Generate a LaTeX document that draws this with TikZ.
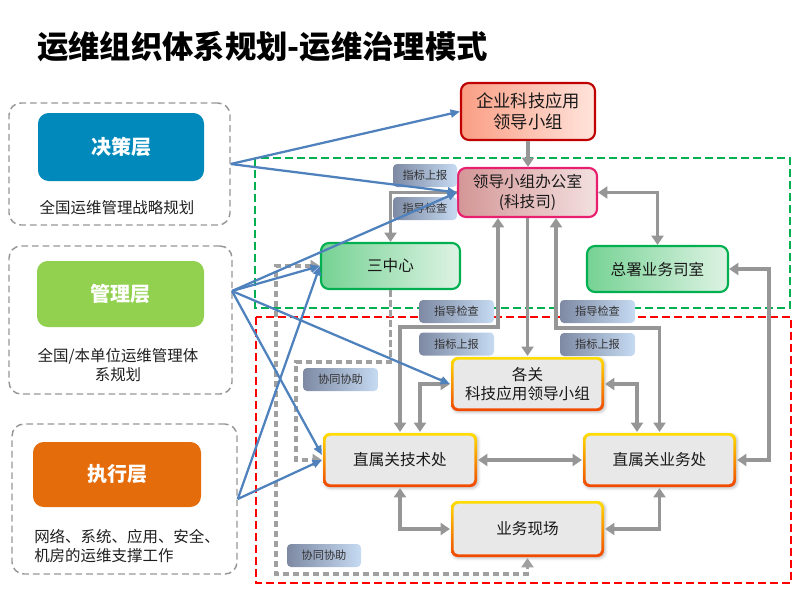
\documentclass[tikz,border=0pt]{standalone}
\usepackage{fontspec}
\setmainfont{Noto Sans CJK SC}
\usetikzlibrary{arrows.meta,shadows.blur,fit}
\definecolor{jcblue}{RGB}{0,137,186}
\definecolor{glgreen}{RGB}{146,208,80}
\definecolor{zxorange}{RGB}{228,108,10}
\definecolor{qyA}{RGB}{250,158,132}
\definecolor{qyB}{RGB}{255,228,220}
\definecolor{qyBorder}{RGB}{192,0,0}
\definecolor{ofA}{RGB}{212,150,150}
\definecolor{ofB}{RGB}{243,224,224}
\definecolor{ofBorder}{RGB}{232,30,110}
\definecolor{gnA}{RGB}{118,210,148}
\definecolor{gnB}{RGB}{222,243,228}
\definecolor{gnBorder}{RGB}{0,176,80}
\definecolor{yel}{RGB}{255,222,0}
\definecolor{ored}{RGB}{240,70,0}
\definecolor{boxgray}{RGB}{232,232,232}
\definecolor{labA}{RGB}{126,138,164}
\definecolor{labB}{RGB}{198,218,242}
\definecolor{arrgray}{RGB}{150,150,150}
\definecolor{dashgray}{RGB}{160,160,160}
\definecolor{lgray}{RGB}{150,150,150}
\definecolor{bblue}{RGB}{79,129,189}
\definecolor{dgreen}{RGB}{0,176,80}
\definecolor{dred}{RGB}{255,0,0}
\begin{document}
\begin{tikzpicture}[x=0.75pt,y=-0.75pt,
  every node/.style={inner sep=0pt},
  titlestyle/.style={anchor=west, font=\bfseries\fontsize{23.5}{26}\selectfont},
  layerbox/.style={draw=lgray, line width=1.1pt, dash pattern=on 5pt off 3pt, rounded corners=9pt},
  layertag/.style={rounded corners=8pt, text=white, font=\bfseries\fontsize{15}{18}\selectfont},
  desc/.style={font=\fontsize{11.6}{13.6}\selectfont, align=center, text=black!88},
  nbox/.style={align=center, font=\fontsize{11.7}{14.5}\selectfont, line width=1.6pt, rounded corners=6pt, text=black!90},
  qybox/.style={nbox, font=\fontsize{13}{16}\selectfont, draw=qyBorder, left color=qyA, right color=qyB},
  ofbox/.style={nbox, draw=ofBorder, left color=ofA, right color=ofB},
  gnbox/.style={nbox, draw=gnBorder, left color=gnA, right color=gnB},
  ybox/.style={nbox, draw=none, top color=yel, bottom color=ored, rounded corners=5pt,
    blur shadow={shadow xshift=1pt, shadow yshift=-1pt, shadow blur steps=4, shadow opacity=25},
    path picture={\fill[boxgray, rounded corners=3.5pt]
      ([shift={(2pt,-2pt)}]path picture bounding box.north west) rectangle
      ([shift={(-2pt,2pt)}]path picture bounding box.south east);}},
  tagbox/.style={rounded corners=3pt, left color=labA, right color=labB, font=\fontsize{8.4}{10}\selectfont, text=black!80, minimum height=17.25pt},
  garr/.style={draw=arrgray, line width=2.5pt, >={Triangle[length=7pt,width=9pt]}},
  gdash/.style={draw=dashgray, line width=2.5pt, dash pattern=on 5pt off 2.5pt, >={Triangle[length=7pt,width=9pt]}},
  barr/.style={draw=bblue, line width=1.7pt, -{Triangle[length=7pt,width=6pt]}},
  zonerect/.style={line width=2pt, dash pattern=on 6pt off 3pt}
]
\useasboundingbox (0,0) rectangle (800,600);

% title
\node[titlestyle] (title) at (37,47) {运维组织体系规划-运维治理模式};

% zones
\draw[zonerect, draw=dgreen] (255,158) rectangle (790,308);
\draw[zonerect, draw=dred] (256,317) rectangle (791,583);

% left layer boxes
\node[layerbox, fit={(9,103) (230,225)}] (b1) {};
\node[layertag, fill=jcblue, minimum width=124.5pt, minimum height=51pt] (jc) at (121,147) {决策层};
\node[desc] (t1) at (117,208) {全国运维管理战略规划};

\node[layerbox, fit={(9,246) (232,394)}] (b2) {};
\node[layertag, fill=glgreen, minimum width=125.25pt, minimum height=49.5pt] (gl) at (120.5,294) {管理层};
\node[desc] (t2) at (118,365) {全国/本单位运维管理体\\系规划};

\node[layerbox, fit={(12,424) (237,574)}] (b3) {};
\node[layertag, fill=zxorange, minimum width=126pt, minimum height=48.75pt] (zx) at (117,474.5) {执行层};
\node[desc, anchor=west, align=left] (t3) at (34,546) {网络、系统、应用、安全、\\机房的运维支撑工作};

% main nodes
\node[qybox, minimum width=100.5pt, minimum height=42.75pt] (qy) at (528,111.5) {企业科技应用\\领导小组};
\node[ofbox, minimum width=104.25pt, minimum height=36.75pt] (ofc) at (527.5,192.5) {领导小组办公室\\(科技司)};
\node[gnbox, minimum width=104.25pt, minimum height=34.5pt] (szx) at (390.5,266) {三中心};
\node[gnbox, minimum width=105.75pt, minimum height=34.5pt] (zs) at (657.5,269) {总署业务司室};
\node[ybox, minimum width=114.75pt, minimum height=40.5pt] (gg) at (527.5,384) {各关\\科技应用领导小组};
\node[ybox, minimum width=115.5pt, minimum height=40.5pt] (jsc) at (400,460) {直属关技术处};
\node[ybox, minimum width=114.75pt, minimum height=40.5pt] (ywc) at (659.5,460) {直属关业务处};
\node[ybox, minimum width=114.75pt, minimum height=42pt] (xc) at (527.5,529) {业务现场};

% bend coordinates
\coordinate (k1) at (498,327);
\coordinate (k2) at (556,328);
\coordinate (k3) at (420,0);
\coordinate (k4) at (637,0);
\coordinate (k5) at (769,0);
\coordinate (k6) at (296,362);
\coordinate (k7) at (276,574);
\coordinate (o2) at (232,291);

% gray connectors
\draw[garr,->] (qy.south) -- (qy.south |- ofc.north);
\draw[garr,<->] (ofc.east) -| (zs.north);
\draw[garr,->] (ofc.west) -| (szx.north);
\draw[garr,<->] (ofc.south -| k1) -- (k1) -| (jsc.north);
\draw[garr,->] (ofc.south) -- (ofc.south |- gg.north);
\draw[garr,<->] (ofc.south -| k2) -- (k2) -| (ywc.north);
\draw[garr,<->] (gg.west) -| (jsc.north -| k3);
\draw[garr,<->] (gg.east) -| (ywc.north -| k4);
\draw[garr,<->] (jsc.east) -- (ywc.west);
\draw[garr,<->] (jsc.south) |- (xc.west);
\draw[garr,<->] (ywc.south) |- (xc.east);
\draw[garr,<->] (zs.east) -| (k5 |- ywc.east) -- (ywc.east);
\draw[gdash,->] (szx.south) |- (k6) |- (jsc.west);
\draw[gdash,<->] (szx.west) -| (k7) -| (xc.south);

% tags
\node[tagbox, minimum width=48pt] (l1) at (425,175.5) {指标上报};
\node[tagbox, minimum width=48pt] (l2) at (425,208.5) {指导检查};
\node[tagbox, minimum width=56.25pt] (l3) at (456.5,311.5) {指导检查};
\node[tagbox, minimum width=56.25pt] (l4) at (456.5,344) {指标上报};
\node[tagbox, minimum width=56.25pt] (l5) at (597.5,311.5) {指导检查};
\node[tagbox, minimum width=56.25pt] (l6) at (597.5,344.5) {指标上报};
\node[tagbox, minimum width=56.25pt] (l7) at (340.5,379.5) {协同协助};
\node[tagbox, minimum width=55.5pt] (l8) at (324,555.5) {协同协助};

% blue arrows
\draw[barr] (b1.east) -- (qy.west);
\draw[barr] (b1.east) -- (ofc.west);
\draw[barr] (o2) -- (ofc.west);
\draw[barr] (o2) -- (szx.west);
\draw[barr] (o2) -- (gg.west);
\draw[barr] (o2) -- ([yshift=3.75pt]jsc.west);
\draw[barr] (b3.east) -- (szx.west);
\draw[barr] (b3.east) -- (jsc.west);
\end{tikzpicture}
\end{document}
